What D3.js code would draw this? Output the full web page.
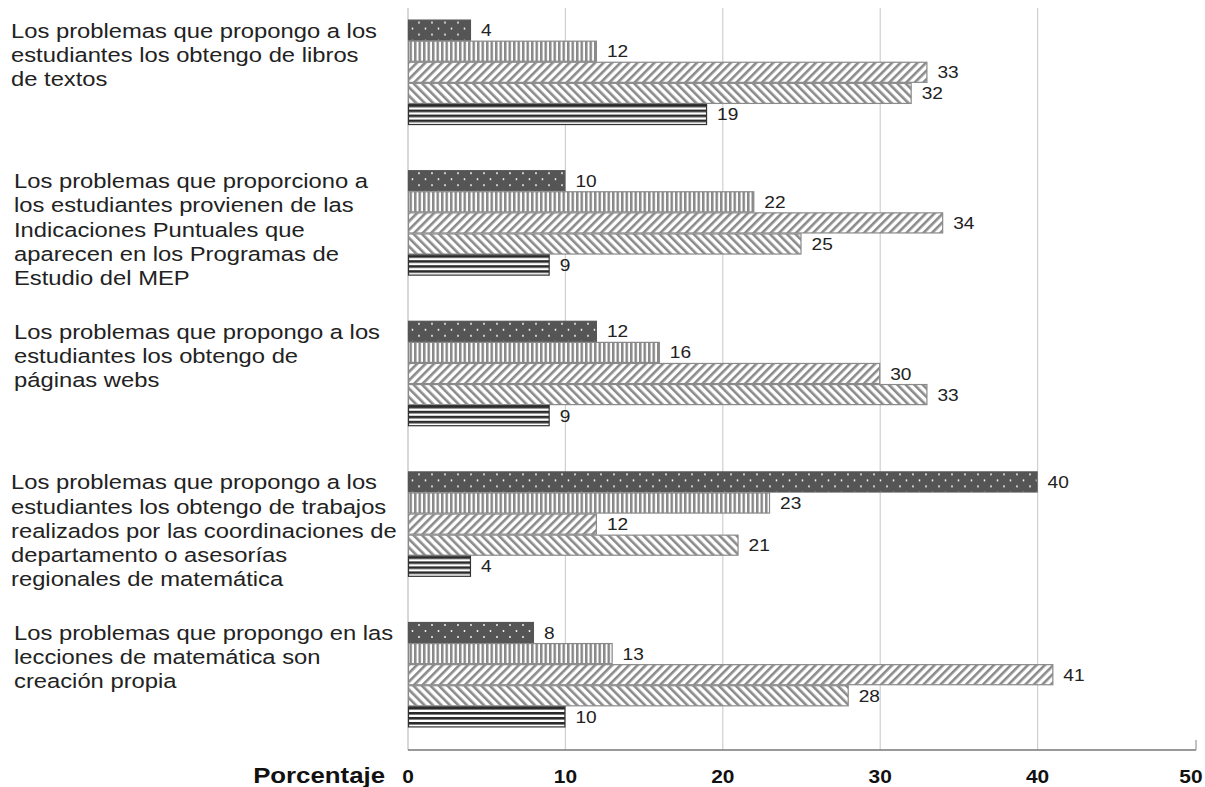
<!DOCTYPE html>
<html>
<head>
<meta charset="utf-8">
<script src="https://cdn.jsdelivr.net/npm/d3@7/dist/d3.min.js"></script>
<style>
  html,body{margin:0;padding:0;background:#fff;}
  svg{display:block;font-family:"Liberation Sans",Arial,sans-serif;}
</style>
</head>
<body>
<svg id="chart" width="1205" height="787"></svg>
<script>
/* ── data ── */
var categories=[
  ['Los problemas que propongo a los','estudiantes los obtengo de libros','de textos'],
  ['Los problemas que proporciono a','los estudiantes provienen de las','Indicaciones Puntuales que','aparecen en los Programas de','Estudio del MEP'],
  ['Los problemas que propongo a los','estudiantes los obtengo de','páginas webs'],
  ['Los problemas que propongo a los','estudiantes los obtengo de trabajos','realizados por las coordinaciones de','departamento o asesorías','regionales de matemática'],
  ['Los problemas que propongo en las','lecciones de matemática son','creación propia']
];
var seriesKeys=['s1','s2','s3','s4','s5'];
var s1=[4,10,12,40,8];
var s2=[12,22,16,23,13];
var s3=[33,34,30,12,41];
var s4=[32,25,33,21,28];
var s5=[19,9,9,4,10];
var xTicks=[0,10,20,30,40,50];
var axisTitle='Porcentaje';

var seriesVals=[s1,s2,s3,s4,s5];

/* ── layout ── */
var svg=d3.select('#chart');
var W=1205, X0=408, X1=1195, YTOP=8, YBOT=750;
var SX=1.16; // the source text is drawn a little wide

var x=d3.scaleLinear().domain([0,50]).range([X0,X1]);
var y=d3.scaleBand().domain(d3.range(categories.length)).range([-3,YBOT]).paddingInner(0.3).paddingOuter(0.15);
var yi=d3.scaleBand().domain(seriesKeys).range([0,y.bandwidth()]);

function wideText(parent,tx,ty,sx){
  return parent.append('g').attr('transform','translate('+tx+','+ty+') scale('+(sx||SX)+',1)').append('text');
}

/* ── patterns ── */
var defs=svg.append('defs');
var p1=defs.append('pattern').attr('id','pat-s1').attr('patternUnits','userSpaceOnUse').attr('width',13).attr('height',12);
p1.append('rect').attr('width',13).attr('height',12).attr('fill','#555');
p1.append('circle').attr('cx',3).attr('cy',3).attr('r',0.9).attr('fill','#fff');
p1.append('circle').attr('cx',9.5).attr('cy',9).attr('r',0.9).attr('fill','#fff');

var p2=defs.append('pattern').attr('id','pat-s2').attr('patternUnits','userSpaceOnUse').attr('width',4.5).attr('height',10);
p2.append('rect').attr('width',4.5).attr('height',10).attr('fill','#fff');
p2.append('rect').attr('width',2.5).attr('height',10).attr('fill','#888');

var p3=defs.append('pattern').attr('id','pat-s3').attr('patternUnits','userSpaceOnUse').attr('width',6).attr('height',6)
  .attr('patternTransform','rotate(45)');
p3.append('rect').attr('width',6).attr('height',6).attr('fill','#fff');
p3.append('rect').attr('width',2.6).attr('height',6).attr('fill','#8a8a8a');

var p4=defs.append('pattern').attr('id','pat-s4').attr('patternUnits','userSpaceOnUse').attr('width',6).attr('height',6)
  .attr('patternTransform','rotate(-45)');
p4.append('rect').attr('width',6).attr('height',6).attr('fill','#fff');
p4.append('rect').attr('width',2.6).attr('height',6).attr('fill','#8a8a8a');

var p5=defs.append('pattern').attr('id','pat-s5').attr('patternUnits','userSpaceOnUse').attr('width',10).attr('height',5);
p5.append('rect').attr('width',10).attr('height',5).attr('fill','#fff');
p5.append('rect').attr('width',10).attr('height',2.6).attr('fill','#2a2a2a');

var strokes={s1:'#555',s2:'#888',s3:'#8a8a8a',s4:'#8a8a8a',s5:'#333'};

/* ── grid ── */
svg.append('g').selectAll('line').data(xTicks.slice(1,-1)).enter().append('line')
  .attr('x1',function(d){return x(d);}).attr('x2',function(d){return x(d);})
  .attr('y1',YTOP).attr('y2',YBOT).attr('stroke','#cfcfcf').attr('stroke-width',1.2);

svg.append('line').attr('x1',X0).attr('x2',X0).attr('y1',YTOP).attr('y2',YBOT)
  .attr('stroke','#bdbdbd').attr('stroke-width',1.2);

/* ── bars ── */
var groups=svg.append('g').selectAll('g').data(categories).enter().append('g')
  .attr('transform',function(d,i){return 'translate(0,'+y(i)+')';});

seriesKeys.forEach(function(k,si){
  groups.append('rect')
    .attr('x',X0+0.5)
    .attr('y',function(d,i){return yi(k)+0.5;})
    .attr('width',function(d,i){return x(seriesVals[si][i])-X0-1;})
    .attr('height',yi.bandwidth()-1)
    .attr('fill','url(#pat-'+k+')')
    .attr('stroke',strokes[k]).attr('stroke-width',1.2);
  groups.each(function(d,i){
    wideText(d3.select(this),x(seriesVals[si][i])+10,yi(k)+yi.bandwidth()/2+6)
      .attr('font-size','16.5px').attr('fill','#222')
      .text(seriesVals[si][i]);
  });
});

/* ── category labels ── */
groups.each(function(lines,i){
  var lx=(i===0||i===3)?11:14;
  var t=wideText(d3.select(this),lx,18).attr('font-size','20.5px').attr('fill','#222');
  lines.forEach(function(l,j){
    t.append('tspan').attr('x',0).attr('dy',j===0?0:24.2).text(l);
  });
});

/* ── x axis ── */
svg.append('line').attr('x1',X0).attr('x2',X1+1).attr('y1',YBOT).attr('y2',YBOT)
  .attr('stroke','#777').attr('stroke-width',1.5);
svg.append('line').attr('x1',X1+1).attr('x2',X1+1).attr('y1',YBOT-10).attr('y2',YBOT)
  .attr('stroke','#999').attr('stroke-width',1.2);

var tickG=svg.append('g');
xTicks.forEach(function(d){
  wideText(tickG,Math.min(x(d),W-14),783,1.1)
    .attr('text-anchor','middle').attr('font-size','19px').attr('font-weight','bold').attr('fill','#111')
    .text(d);
});

wideText(svg,385,783,1.2).attr('text-anchor','end')
  .attr('font-size','21.5px').attr('font-weight','bold').attr('fill','#111')
  .text(axisTitle);
</script>
</body>
</html>
